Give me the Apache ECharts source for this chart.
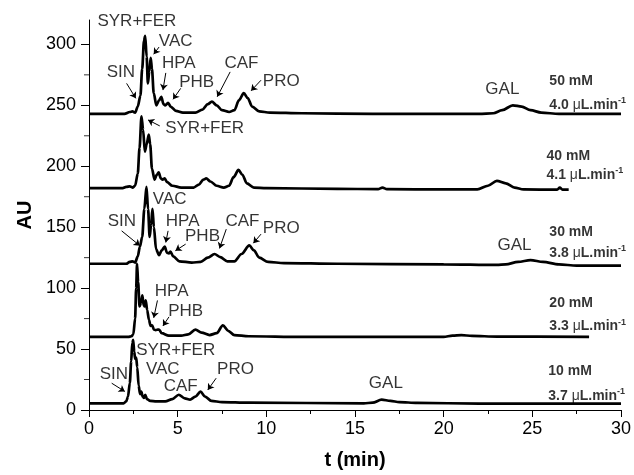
<!DOCTYPE html>
<html>
<head>
<meta charset="utf-8">
<script src="https://cdn.jsdelivr.net/npm/echarts@6/dist/echarts.min.js"></script>
<style>
  html, body { margin: 0; padding: 0; background: #fff; }
  #chart { width: 634px; height: 475px; }
</style>
</head>
<body>
<div id="chart"></div>
<script>
// electropherograms, [t (min), AU] — offset traces as in the figure
const trace50 = [[0,243],[2.0,243],[2.3,244.5],[2.45,245],[2.6,244],[2.75,249],[2.9,258],[3.0,280],[3.1,303],[3.17,307],[3.25,290],[3.32,268],[3.4,278],[3.48,289],[3.55,280],[3.65,260],[3.8,250],[3.95,254],[4.08,257],[4.2,251],[4.3,250],[4.46,252],[4.6,249],[4.9,245.5],[5.3,244],[6.0,244],[6.4,246.5],[6.7,251],[6.93,253],[7.2,250],[7.5,246],[7.9,244.5],[8.2,246],[8.45,254],[8.73,260],[8.95,256],[9.2,249],[9.6,245],[10.2,244],[12,243.5],[16,243],[22,243],[22.8,243.5],[23.3,246],[23.9,250],[24.4,249],[24.9,246],[25.5,244],[26.5,243],[30,243]];
const trace40 = [[0,182],[1.9,182],[2.1,183],[2.3,183.5],[2.45,182.5],[2.6,184],[2.75,194],[2.85,215],[2.96,241],[3.05,230],[3.15,212],[3.25,218],[3.37,226],[3.45,218],[3.55,198],[3.7,189],[3.82,193],[3.93,195],[4.05,190],[4.15,189],[4.27,190],[4.4,187],[4.7,184],[5.2,182.5],[5.9,182.5],[6.2,185],[6.45,189],[6.61,190],[6.85,187.5],[7.2,184],[7.6,182.5],[7.9,184],[8.15,191],[8.43,197],[8.65,193],[8.9,186],[9.3,182.5],[10,182],[14,181.5],[16.3,181.2],[16.55,182.5],[16.8,181.2],[20,181],[21.9,181],[22.5,184],[23.0,188],[23.5,186],[24.0,182.5],[24.5,181],[26.4,180.8],[26.55,182.5],[26.7,180.8],[27.05,180.8]];
const trace30 = [[0,120],[2.1,120],[2.3,121.5],[2.45,122],[2.6,121],[2.75,126],[2.87,134],[3.0,142],[3.12,165],[3.24,183],[3.33,165],[3.42,142],[3.5,152],[3.58,165],[3.66,150],[3.78,132],[3.95,127],[4.1,131],[4.27,134],[4.4,129],[4.5,128.5],[4.59,130],[4.75,126],[5.1,122],[5.8,121],[6.3,121.5],[6.7,125],[7.08,128],[7.4,125.5],[7.8,122],[8.2,122],[8.6,128],[9.04,135],[9.3,131],[9.6,125],[10.1,121.5],[11,120.5],[14,120],[20,119.5],[23,119],[23.5,119.5],[24.2,121.5],[24.9,123],[25.6,121.5],[26.5,119.5],[27.5,118.5],[30,118.5]];
const trace20 = [[0,60],[2.2,60],[2.4,60.5],[2.5,62],[2.6,75],[2.66,100],[2.71,120],[2.77,105],[2.85,85],[2.93,88],[3.01,94],[3.08,86],[3.14,85],[3.2,90],[3.28,82],[3.38,74],[3.47,69],[3.56,69.5],[3.66,66],[3.76,65.5],[3.87,66],[3.95,66],[4.1,63],[4.5,61],[5.2,61],[5.6,62],[6.0,66],[6.35,63.5],[6.8,61.5],[7.2,63],[7.55,69.5],[7.85,65],[8.2,61.5],[9,60.5],[12,60],[20,60],[20.5,61],[21,61.5],[21.6,60.8],[23,60.2],[28.2,60]];
const trace10 = [[0,5.5],[1.95,5.5],[2.1,7],[2.2,11],[2.3,22],[2.38,40],[2.44,55],[2.49,57.5],[2.55,48],[2.6,42],[2.66,43],[2.72,35],[2.8,20],[2.88,13],[2.95,15],[3.03,11],[3.1,10],[3.17,12.5],[3.27,9],[3.45,7.5],[3.8,7],[4.3,7],[4.7,9],[5.06,12.5],[5.4,9.5],[5.7,8.5],[6.0,11],[6.29,15],[6.55,11],[6.9,7.5],[7.5,6.5],[9,6],[15.5,5.5],[16,6],[16.5,8.5],[17,7.5],[17.5,6.5],[18.5,5.8],[22,5.3],[30,5.2]];

const traces = [trace50, trace40, trace30, trace20, trace10];

// axis ticks
const yTicks = [0, 50, 100, 150, 200, 250, 300];
const yMinorTicks = [25, 75, 125, 175, 225, 275];

// peak names and where they sit (t, AU)
const peakLabels = [
  ['SYR+FER', 2.70, 318.7], ['VAC', 4.89, 302.4], ['HPA', 5.06, 284.5], ['PHB', 6.07, 269.0],
  ['CAF', 8.60, 284.5], ['PRO', 10.84, 269.8], ['SIN', 1.80, 277.2], ['GAL', 23.31, 263.3],
  ['SYR+FER', 6.52, 231.5],
  ['VAC', 4.55, 172.8], ['SIN', 1.85, 154.9], ['HPA', 5.28, 154.9], ['PHB', 6.40, 142.7],
  ['CAF', 8.65, 154.9], ['PRO', 10.84, 149.2], ['GAL', 23.99, 135.3],
  ['HPA', 4.66, 97.0], ['PHB', 5.45, 80.7],
  ['SYR+FER', 4.89, 48.9], ['VAC', 4.16, 33.4], ['SIN', 1.40, 29.3], ['CAF', 5.17, 19.6],
  ['PRO', 8.26, 33.4], ['GAL', 16.74, 22.0]
];

const arrows = [
  [[2.12, 268.0], [2.64, 255.7]], [[3.95, 297.8], [3.65, 291.9]], [[4.33, 276.6], [4.17, 262.5]],
  [[5.17, 263.9], [4.74, 254.9]], [[7.96, 277.4], [7.23, 257.0]], [[9.70, 270.6], [9.14, 261.9]],
  [[3.99, 233.1], [3.33, 238.0]],
  [[1.84, 147.0], [2.87, 134.8]], [[4.46, 147.0], [4.33, 137.5]], [[5.45, 136.1], [4.87, 130.7]],
  [[7.74, 148.4], [7.36, 132.6]], [[9.70, 144.3], [9.27, 136.9]],
  [[3.86, 89.9], [3.65, 75.6]], [[4.51, 76.4], [4.17, 69.0]],
  [[1.28, 22.0], [2.02, 15.2]], [[7.17, 26.1], [6.70, 16.5]]
];

// buffer concentration and flow for each run
const concentrations = ['50 mM', '40 mM', '30 mM', '20 mM', '10 mM'];
const flows = ['4.0', '4.1', '3.8', '3.3', '3.7'];
const concPos = [[25.96, 269.8], [25.8, 207.9], [25.96, 145.9], [25.96, 88.0], [25.9, 31.8]];
const flowPos = [[25.96, 250.3], [25.8, 192.4], [25.96, 128.8], [25.96, 68.5], [25.9, 11.4]];

const FONT = '"Liberation Sans", Arial, sans-serif';

let series = traces.map(function (d) {
  return {
    type: 'line',
    data: d,
    showSymbol: false,
    smooth: 0.3,
    smoothMonotone: 'x',
    lineStyle: { color: '#000', width: 2.7 },
    silent: true
  };
});

series.push({
  type: 'scatter',
  symbolSize: 0,
  clip: false,
  silent: true,
  data: peakLabels.map(p => ({ name: p[0], value: [p[1], p[2]] })),
  label: {
    show: true, position: 'inside', formatter: '{b}',
    color: '#000', fontFamily: FONT, fontSize: 17
  }
});

series.push({
  type: 'lines',
  coordinateSystem: 'cartesian2d',
  silent: true,
  symbol: ['none', 'arrow'],
  symbolSize: 6,
  lineStyle: { color: '#000', width: 1, opacity: 1 },
  data: arrows.map(a => ({ coords: a }))
});

series.push({
  type: 'scatter',
  symbolSize: 0,
  clip: false,
  silent: true,
  data: concentrations.map((c, i) => ({ name: c, value: concPos[i] })),
  label: {
    show: true, position: 'right', distance: 0, formatter: '{b}',
    color: '#000', fontFamily: FONT, fontSize: 14, fontWeight: 'bold'
  }
});

series.push({
  type: 'scatter',
  symbolSize: 0,
  clip: false,
  silent: true,
  data: flows.map((f, i) => ({ name: f, value: flowPos[i] })),
  label: {
    show: true, position: 'right', distance: 0,
    formatter: p => '{b|' + p.name + ' }{u|\u03bc}{b|L.min}{s|-1}',
    rich: {
      b: { color: '#000', fontFamily: FONT, fontSize: 14, fontWeight: 'bold', lineHeight: 18 },
      u: { color: '#000', fontFamily: FONT, fontSize: 14, lineHeight: 18 },
      s: { color: '#000', fontFamily: FONT, fontSize: 9, fontWeight: 'bold', lineHeight: 18, verticalAlign: 'top' }
    }
  }
});

// minor y ticks: short dashes left of the axis line, one per tick value
series.push({
  type: 'scatter',
  silent: true,
  clip: false,
  symbol: 'rect',
  symbolSize: [5, 1],
  symbolOffset: [-2.5, 0],
  itemStyle: { color: '#000' },
  data: yMinorTicks.map(v => [0, v])
});

const chart = echarts.init(document.getElementById('chart'), null, { renderer: 'canvas' });
chart.setOption({
  animation: false,
  backgroundColor: '#fff',
  grid: { left: 89, right: 11, top: 20, bottom: 63 },
  xAxis: {
    type: 'value', min: 0, max: 30, interval: 5,
    name: 't (min)', nameLocation: 'middle', nameGap: 40,
    nameTextStyle: { color: '#000', fontFamily: FONT, fontSize: 20, fontWeight: 'bold' },
    axisLine: { lineStyle: { color: '#000', width: 1 } },
    axisTick: { length: 7, lineStyle: { color: '#000' } },
    minorTick: { show: true, splitNumber: 2, length: 4, lineStyle: { color: '#000' } },
    axisLabel: { color: '#000', fontFamily: FONT, fontSize: 18, margin: 10 },
    splitLine: { show: false }
  },
  yAxis: {
    type: 'value', min: 0, max: 320,
    name: 'AU', nameLocation: 'middle', nameGap: 52, nameRotate: 90,
    nameTextStyle: { color: '#000', fontFamily: FONT, fontSize: 20, fontWeight: 'bold' },
    axisLine: { show: true, lineStyle: { color: '#000', width: 1 } },
    axisTick: { show: true, length: 8, lineStyle: { color: '#000' }, customValues: yTicks },
    axisLabel: { color: '#000', fontFamily: FONT, fontSize: 18, margin: 13, customValues: yTicks },
    splitLine: { show: false }
  },
  series: series
});
</script>
</body>
</html>
